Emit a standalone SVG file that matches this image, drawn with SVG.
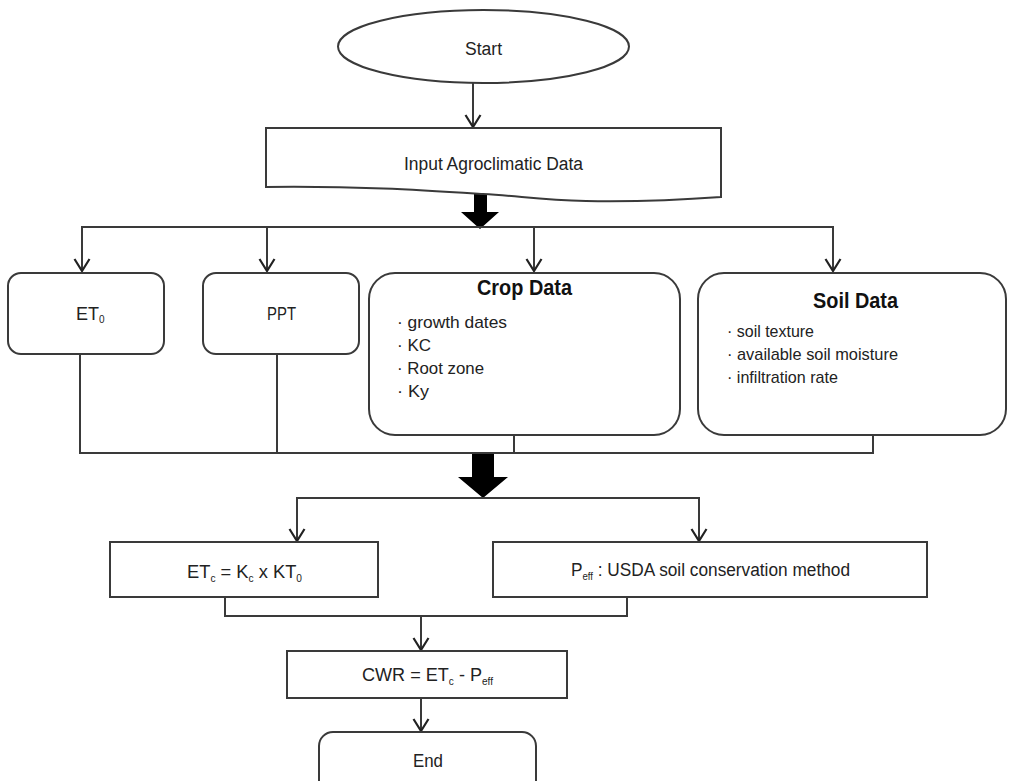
<svg xmlns="http://www.w3.org/2000/svg" width="1009" height="781" viewBox="0 0 1009 781">
<style>
.box{fill:#fff;stroke:#3a3a3a;stroke-width:2}
.ln{fill:none;stroke:#3a3a3a;stroke-width:2}
.arr{fill:none;stroke:#3a3a3a;stroke-width:2;marker-end:url(#chev)}
.thick{fill:#000;stroke:none}
.t{font-family:'Liberation Sans',Arial,sans-serif;font-size:18px;fill:#222}
.b{font-family:'Liberation Sans',Arial,sans-serif;font-size:17px;fill:#222}
.h{font-family:'Liberation Sans',Arial,sans-serif;font-size:22px;font-weight:bold;fill:#111}
.s{font-size:10px}
</style>
<defs>
<marker id="chev" viewBox="-13 -9 15 18" refX="0" refY="0" markerWidth="15" markerHeight="18" markerUnits="userSpaceOnUse" orient="auto">
<path d="M-12,-7.5 L0,0 L-12,7.5" fill="none" stroke="#222" stroke-width="2.2"/>
</marker>
</defs>
<rect width="1009" height="781" fill="#fff"/>

<g id="connectors">
<line class="arr" x1="473" y1="83" x2="473" y2="127"/>
<polygon class="thick" points="474,190 487,190 487,212 499,212 480,229 461,212 474,212"/>
<line class="ln" x1="81" y1="227" x2="834" y2="227"/>
<line class="arr" x1="82" y1="227" x2="82" y2="271"/>
<line class="arr" x1="267" y1="227" x2="267" y2="271"/>
<line class="arr" x1="534" y1="227" x2="534" y2="271"/>
<line class="arr" x1="833" y1="227" x2="833" y2="271"/>
<line class="ln" x1="80" y1="354" x2="80" y2="453"/>
<line class="ln" x1="277" y1="354" x2="277" y2="453"/>
<line class="ln" x1="514" y1="435" x2="514" y2="453"/>
<line class="ln" x1="873" y1="435" x2="873" y2="453"/>
<line class="ln" x1="79" y1="453" x2="874" y2="453"/>
<polygon class="thick" points="472,454 494,454 494,477 508,477 483,498 458,477 472,477"/>
<line class="ln" x1="296" y1="498" x2="700" y2="498"/>
<line class="arr" x1="297" y1="498" x2="297" y2="541"/>
<line class="arr" x1="699" y1="498" x2="699" y2="541"/>
<line class="ln" x1="225" y1="597" x2="225" y2="616"/>
<line class="ln" x1="627" y1="597" x2="627" y2="616"/>
<line class="ln" x1="224" y1="616" x2="628" y2="616"/>
<line class="arr" x1="421" y1="616" x2="421" y2="650"/>
<line class="arr" x1="421" y1="698" x2="421" y2="731"/>
</g>

<g id="start">
<ellipse class="box" cx="483.5" cy="46.5" rx="145.5" ry="36.5"/>
<text class="t" x="465" y="55" textLength="37" lengthAdjust="spacingAndGlyphs">Start</text>
</g>

<g id="input">
<path class="box" d="M266,128 H721 V197 C680,200 640,202 586,201 C540,200 520,196 483,194 C420,190 360,186 266,187 Z"/>
<text class="t" x="404" y="170" textLength="179" lengthAdjust="spacingAndGlyphs">Input Agroclimatic Data</text>
</g>

<g id="et0">
<rect class="box" x="8" y="273" width="156" height="81" rx="13"/>
<text class="t" x="76" y="320">ET<tspan class="s" dy="3">0</tspan></text>
</g>

<g id="ppt">
<rect class="box" x="203" y="273" width="156" height="81" rx="13"/>
<text class="t" x="267" y="320" textLength="29" lengthAdjust="spacingAndGlyphs">PPT</text>
</g>

<g id="crop">
<rect class="box" x="369" y="273" width="311" height="162" rx="26"/>
<text class="h" x="477" y="295" textLength="95" lengthAdjust="spacingAndGlyphs">Crop Data</text>
<text class="b" x="397" y="328" textLength="110" lengthAdjust="spacingAndGlyphs">· growth dates</text>
<text class="b" x="397" y="351" textLength="34" lengthAdjust="spacingAndGlyphs">· KC</text>
<text class="b" x="397" y="374" textLength="87" lengthAdjust="spacingAndGlyphs">· Root zone</text>
<text class="b" x="397" y="397" textLength="32" lengthAdjust="spacingAndGlyphs">· Ky</text>
</g>

<g id="soil">
<rect class="box" x="698" y="273" width="308" height="162" rx="26"/>
<text class="h" x="813" y="308" textLength="85" lengthAdjust="spacingAndGlyphs">Soil Data</text>
<text class="b" x="727" y="337" textLength="87" lengthAdjust="spacingAndGlyphs">· soil texture</text>
<text class="b" x="727" y="360" textLength="171" lengthAdjust="spacingAndGlyphs">· available soil moisture</text>
<text class="b" x="727" y="383" textLength="111" lengthAdjust="spacingAndGlyphs">· infiltration rate</text>
</g>

<g id="etc">
<rect class="box" x="110" y="542" width="268" height="55"/>
<text class="t" x="187" y="578" textLength="115" lengthAdjust="spacingAndGlyphs">ET<tspan class="s" dy="4">c</tspan><tspan dy="-4"> = K</tspan><tspan class="s" dy="4">c</tspan><tspan dy="-4"> x KT</tspan><tspan class="s" dy="4">0</tspan></text>
</g>

<g id="peff">
<rect class="box" x="493" y="542" width="434" height="55"/>
<text class="t" x="571" y="576" textLength="279" lengthAdjust="spacingAndGlyphs">P<tspan class="s" dy="4">eff</tspan><tspan dy="-4"> : USDA soil conservation method</tspan></text>
</g>

<g id="cwr">
<rect class="box" x="287" y="651" width="280" height="47"/>
<text class="t" x="362" y="681" textLength="131" lengthAdjust="spacingAndGlyphs">CWR = ET<tspan class="s" dy="4">c</tspan><tspan dy="-4"> - P</tspan><tspan class="s" dy="4">eff</tspan></text>
</g>

<g id="end">
<rect class="box" x="319" y="732" width="217" height="80" rx="14"/>
<text class="t" x="413" y="767" textLength="30" lengthAdjust="spacingAndGlyphs">End</text>
</g>
</svg>
